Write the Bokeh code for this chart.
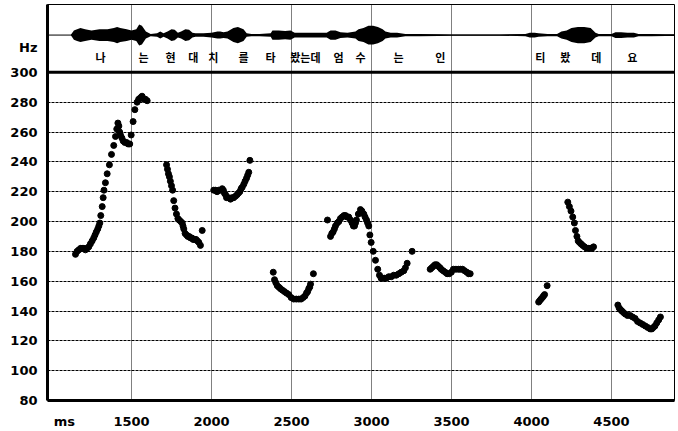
from bokeh.plotting import figure
from bokeh.models import FixedTicker, Span, Range1d
from bokeh.embed import file_html
from bokeh.resources import INLINE
from bokeh.core.properties import value

# ---- F0 track (ms, Hz) ----
seg1_ms = [1150, 1160, 1171, 1182, 1192, 1202, 1212, 1222, 1233, 1243, 1254, 1264, 1272, 1280, 1289, 1296, 1302, 1308, 1317, 1323, 1328, 1337, 1348, 1362, 1375, 1389, 1400, 1408, 1415, 1421, 1426, 1431, 1440, 1448, 1458, 1469, 1479, 1489, 1498, 1510, 1521, 1535, 1545, 1556, 1566, 1577, 1587, 1598]
seg1_hz = [178, 180, 181, 182, 182, 182, 181, 182, 183, 185, 187, 189, 191, 193, 195, 197, 199, 204, 210, 216, 221, 226, 232, 238, 245, 251, 257, 262, 266, 264, 260, 258, 256, 254, 253, 253, 252, 252, 258, 267, 275, 280, 282, 283, 284, 282, 282, 281]
seg2_ms = [1719, 1725, 1731, 1737, 1743, 1750, 1757, 1764, 1772, 1781, 1790, 1798, 1808, 1817, 1822, 1827, 1835, 1844, 1852, 1860, 1869, 1877, 1885, 1894, 1903, 1912, 1921, 1931, 1942]
seg2_hz = [238, 235, 232, 230, 227, 224, 221, 214, 209, 205, 202, 201, 200, 199, 197, 195, 192, 191, 190, 190, 189, 189, 188, 188, 188, 187, 186, 184, 194]
seg3_ms = [2014, 2024, 2035, 2045, 2056, 2067, 2074, 2081, 2088, 2094, 2106, 2119, 2129, 2139, 2150, 2160, 2168, 2177, 2185, 2192, 2202, 2210, 2219, 2226, 2233, 2240]
seg3_hz = [221, 221, 220, 221, 221, 222, 221, 219, 218, 216, 216, 215, 216, 216, 217, 218, 219, 220, 222, 223, 225, 227, 229, 231, 233, 241]
seg4_ms = [2386, 2394, 2402, 2411, 2421, 2431, 2443, 2456, 2469, 2483, 2498, 2514, 2530, 2546, 2560, 2573, 2584, 2594, 2601, 2608, 2614, 2619, 2637]
seg4_hz = [166, 161, 159, 157, 156, 155, 154, 153, 152, 151, 149, 148, 148, 148, 148, 149, 150, 152, 153, 155, 156, 158, 165]
seg5_ms = [2725, 2744, 2752, 2760, 2768, 2775, 2786, 2796, 2806, 2817, 2828, 2838, 2848, 2858, 2869, 2879, 2887, 2894, 2900, 2906, 2918, 2931, 2940, 2952, 2960, 2969, 2976, 2983, 2990, 2998, 3011, 3025, 3039, 3050, 3060, 3070, 3080, 3092, 3108, 3124, 3139, 3155, 3171, 3186, 3202, 3212, 3223, 3254]
seg5_hz = [201, 190, 192, 193, 195, 197, 199, 200, 202, 203, 204, 204, 203, 203, 201, 199, 197, 197, 199, 201, 205, 208, 207, 205, 203, 201, 199, 197, 191, 186, 180, 174, 168, 164, 162, 162, 162, 162, 163, 163, 164, 164, 165, 166, 167, 169, 172, 180]
seg6_ms = [3367, 3377, 3387, 3397, 3408, 3418, 3428, 3436, 3448, 3461, 3473, 3486, 3499, 3512, 3528, 3544, 3556, 3569, 3582, 3596, 3607, 3617]
seg6_hz = [168, 169, 170, 171, 171, 170, 169, 168, 167, 166, 165, 165, 166, 168, 168, 168, 168, 168, 167, 166, 165, 165]
seg7_ms = [4045, 4052, 4060, 4068, 4075, 4082, 4098]
seg7_hz = [146, 147, 148, 149, 150, 151, 157]
seg8_ms = [4227, 4237, 4247, 4258, 4268, 4275, 4284, 4292, 4300, 4310, 4320, 4332, 4345, 4357, 4368, 4378, 4388]
seg8_hz = [213, 210, 207, 203, 199, 194, 190, 187, 186, 185, 184, 183, 182, 182, 182, 182, 183]
seg9_ms = [4540, 4548, 4556, 4565, 4575, 4586, 4600, 4617, 4632, 4648, 4663, 4679, 4695, 4711, 4726, 4742, 4752, 4762, 4772, 4783, 4795, 4806]
seg9_hz = [144, 142, 141, 140, 139, 138, 137, 137, 136, 135, 133, 132, 131, 130, 129, 128, 128, 129, 130, 132, 134, 136]

# ---- waveform envelope (ms, relative half-amplitude) ----
wave_ms = [975, 1120, 1140, 1160, 1181, 1210, 1250, 1300, 1350, 1390, 1410, 1430, 1470, 1500, 1530, 1548, 1565, 1590, 1620, 1660, 1680, 1700, 1725, 1750, 1770, 1790, 1810, 1837, 1860, 1881, 1900, 1950, 2000, 2037, 2055, 2075, 2100, 2137, 2165, 2200, 2220, 2250, 2300, 2370, 2381, 2420, 2460, 2494, 2520, 2600, 2681, 2720, 2744, 2775, 2806, 2850, 2900, 2919, 2950, 2981, 3010, 3040, 3070, 3087, 3120, 3160, 3212, 3300, 3419, 3500, 3800, 3962, 3990, 4020, 4044, 4100, 4160, 4187, 4220, 4250, 4290, 4330, 4370, 4400, 4420, 4500, 4525, 4560, 4600, 4640, 4669, 4750, 4838, 4894]
wave_amp = [0, 0, 4, 5, 6, 5, 4, 5, 5, 6, 7, 6, 5, 4, 5, 9, 8, 3, 1, 1.5, 3, 1.5, 3, 5, 4.5, 2, 3, 5, 4.5, 2, 1.5, 1.5, 2, 3, 3, 2.5, 3, 6, 7, 5, 1.5, 1, 1, 1.5, 4, 4, 3.5, 4, 2, 2, 2, 2, 4, 4, 2.5, 2, 3, 5, 6, 8, 8, 7, 5, 3, 2, 2, 1, 1, 0.8, 0.5, 0.5, 1, 2, 2, 1.5, 1, 1, 3, 4, 6, 7, 7, 6, 2, 1, 1, 2.5, 2.5, 2, 2, 1, 1, 0.8, 0.8]

# ---- syllable labels ----
syllables = ["나", "는", "현", "대", "치", "를", "타", "봤는데", "엄", "수", "는", "인", "티", "봤", "데", "요"]
syllable_ms = [1306, 1575, 1744, 1887, 2012, 2200, 2369, 2587, 2794, 2931, 3169, 3431, 4056, 4212, 4406, 4631]

# ---- axes ----
x_grid = [1500, 2000, 2500, 3000, 3500, 4000, 4500]
x_ticks = [1081] + x_grid
x_labels = {1081: "ms"}
y_grid = [100, 120, 140, 160, 180, 200, 220, 240, 260, 280]
y_ticks = [80] + y_grid + [300, 317]
y_labels = {317: "Hz"}

WAVE_BASE = 325.0
WAVE_SCALE = 0.78
SYL_Y = 310.0

f0_ms = seg1_ms + seg2_ms + seg3_ms + seg4_ms + seg5_ms + seg6_ms + seg7_ms + seg8_ms + seg9_ms
f0_hz = seg1_hz + seg2_hz + seg3_hz + seg4_hz + seg5_hz + seg6_hz + seg7_hz + seg8_hz + seg9_hz

p = figure(width=678, height=431, output_backend="svg", toolbar_location=None,
           x_range=Range1d(975, 4894), y_range=Range1d(80, 345.5),
           min_border_left=47, min_border_right=4, min_border_top=4, min_border_bottom=24)
p.background_fill_color = "white"
p.border_fill_color = "white"
p.outline_line_color = "black"
p.outline_line_width = 1
p.styles = {"outline": "1px solid black", "outline-offset": "-2px"}

FONT = "DejaVu Sans"
for ax in (p.xaxis, p.yaxis):
    ax.axis_line_color = "black"
    ax.axis_line_width = 3
    ax.major_tick_line_color = None
    ax.minor_tick_line_color = None
    ax.major_label_text_font = FONT
    ax.major_label_text_font_size = "13px"
    ax.major_label_text_font_style = "bold"
    ax.major_label_text_color = "black"

p.xaxis.ticker = FixedTicker(ticks=x_ticks)
p.xaxis.major_label_overrides = x_labels
p.xaxis.major_label_standoff = 7
p.yaxis.ticker = FixedTicker(ticks=y_ticks)
p.yaxis.major_label_overrides = y_labels
p.yaxis.major_label_standoff = 4

p.xgrid.ticker = FixedTicker(ticks=x_grid)
p.xgrid.grid_line_color = "black"
p.xgrid.grid_line_width = 1
p.xgrid.grid_line_dash = "1 1"
p.ygrid.ticker = FixedTicker(ticks=y_grid)
p.ygrid.grid_line_color = "black"
p.ygrid.grid_line_width = 1
p.ygrid.grid_line_dash = "3 1"

p.add_layout(Span(location=300, dimension="width", line_color="black", line_width=3))
p.add_layout(Span(location=WAVE_BASE, dimension="width", line_color="black", line_width=1))

lo = [WAVE_BASE - a * WAVE_SCALE for a in wave_amp]
hi = [WAVE_BASE + a * WAVE_SCALE for a in wave_amp]
p.varea(x=wave_ms, y1=lo, y2=hi, fill_color="black")

p.text(x=syllable_ms, y=[SYL_Y] * len(syllable_ms), text=syllables,
       text_align="center", text_baseline="middle",
       text_font=value("Noto Sans CJK KR"), text_font_size="11px",
       text_font_style="bold", text_color="black")

p.scatter(x=f0_ms, y=f0_hz, size=6, fill_color="black", line_color="black")

open("out.html", "w").write(file_html(p, INLINE))
